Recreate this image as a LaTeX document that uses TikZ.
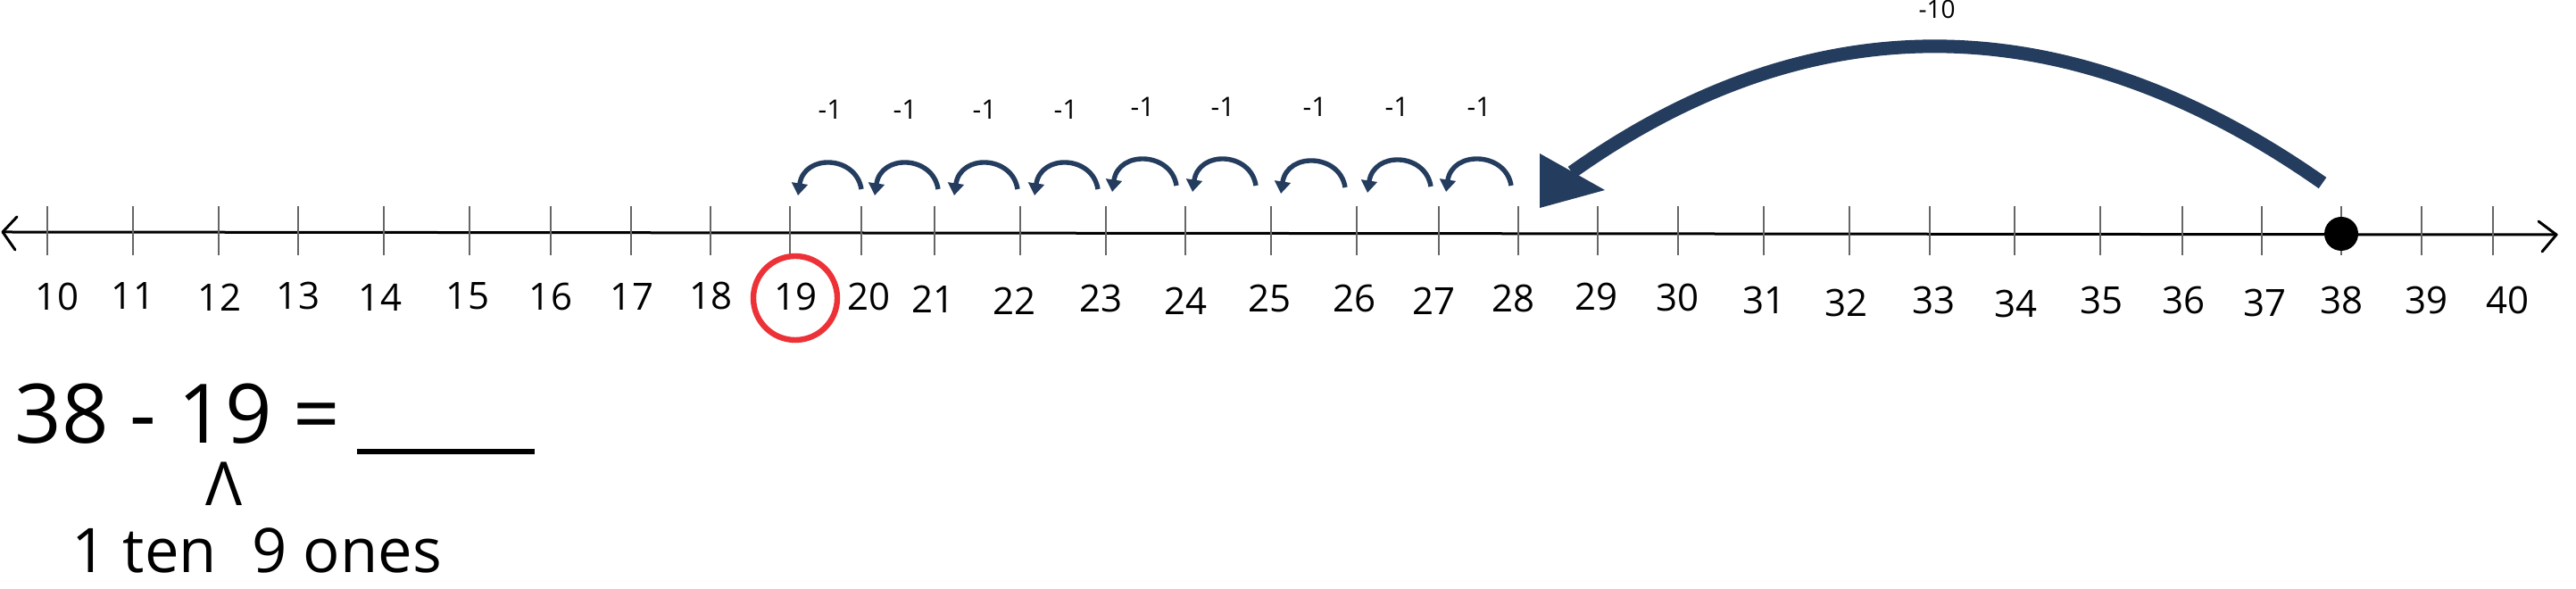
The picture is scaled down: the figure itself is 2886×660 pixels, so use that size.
\documentclass[tikz,border=0pt]{standalone}
\usepackage{fontspec}
\setmainfont{Open Sans}
\usetikzlibrary{arrows.meta}
\definecolor{arcblue}{RGB}{36,60,94}
\definecolor{ringred}{RGB}{237,50,55}
\begin{document}
\begin{tikzpicture}[x=0.25pt,y=-0.25pt,
  axisline/.style={line width=0.75pt,black,line cap=round,line join=round},
  tickline/.style={line width=0.4pt,black!60},
  numlab/.style={font=\fontsize{10.5}{12}\selectfont,inner sep=0pt},
  steplab/.style={font=\fontsize{7.5}{9}\selectfont,inner sep=0pt},
  hop/.style={arcblue,line width=1.35pt,-{Triangle[length=3.4pt,width=4.4pt]}},
  bighop/.style={arcblue,line width=3.75pt},
  ring/.style={draw=ringred,line width=1.6pt,circle,minimum size=23.5pt,inner sep=0pt},
  eqtext/.style={font=\fontsize{23}{28}\selectfont,inner sep=0pt,anchor=base west},
  subtext/.style={font=\fontsize{17.2}{21}\selectfont,inner sep=0pt,anchor=base west}]
\useasboundingbox (0,0) rectangle (2886,660);
% axis
\coordinate (axL) at (3,260);
\coordinate (axR) at (2864,263);
\draw[axisline] (axL) -- (axR);
\draw[axisline] (19,243) -- (axL) -- (17,280);
\draw[axisline] (2844,248) -- (axR) -- (2848,282);
% ticks
\foreach \tx in {53,149,245,334,430,526,617,707,796,885,965,1047,1143,1239,1328,1424,1520,1612,1701,1790,1880,1976,2072,2162,2257,2353,2445,2534,2623,2713,2793}
  \draw[tickline] (\tx,231) -- (\tx,286);
% labels
\foreach \n/\lx/\ly in {10/64/332,11/149/332,12/246/333,13/334/332,14/426/333,15/524/332,16/617/333,17/708/333,18/796/332,19/891/333,20/973/332,21/1045/335,22/1136/337,23/1233/335,24/1328/337,25/1422/335,26/1517/335,27/1606/337,28/1695/335,29/1788/333,30/1879/333,31/1976/337,32/2068/340,33/2166/337,34/2258/341,35/2354/337,36/2446/337,37/2537/340,38/2623/337,39/2718/337,40/2809/336}
  \node[numlab] (lab\n) at (\lx,\ly) {\n};
% red ring around 19
\node[ring] (ring19) at (891,334) {};
% start dot at 38
\fill[black] (2623,262) circle[radius=19];
% small hops
\foreach \i/\xr/\xt/\dy/\lx/\ly in {1/965/893/0/930/123,2/1051/979/0/1014/123,3/1140/1068/0/1103/123,4/1230/1158/0/1194/123,5/1318/1245/-4/1280/120,6/1407/1335/-4/1370/120,7/1507/1434/-2/1473/120,8/1603/1531/-3/1565/120,9/1693/1619/-4/1657/120}{
  \coordinate (hs\i) at (\xr,212+\dy);
  \coordinate (he\i) at (\xt+1,219+\dy);
  \draw[hop] (hs\i) .. controls (\xr-6,174+\dy) and (\xt+8,172+\dy) .. (he\i);
  \node[steplab] (hl\i) at (\lx,\ly) {-1};
}
% big hop -10
\coordinate (bs) at (2602,205);
\coordinate (be) at (1761,193);
\draw[bighop] (bs) .. controls (2323,9) and (2037,-3) .. (be);
\fill[arcblue] (1725,233) -- (1725,172) -- (1798,213) -- cycle;
\node[steplab,font=\fontsize{7}{8}\selectfont] (bl) at (2170,11) {-10};
% equation
\node[eqtext] (eq) at (16,497) {38 - 19 =};
\coordinate (ulA) at (400,506);
\coordinate (ulB) at (599,506);
\draw[line width=1.5pt] (ulA) -- (ulB);
\node[font=\fontsize{17}{20}\selectfont,inner sep=0pt,anchor=base] (wedge) at (251,567) {Λ};
\node[subtext] (ten) at (80,642) {1 ten};
\node[subtext] (ones) at (282,642) {9 ones};
\end{tikzpicture}
\end{document}
